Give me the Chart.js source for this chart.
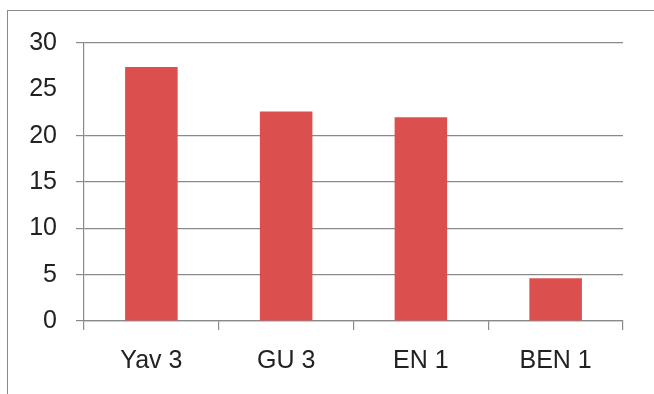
<!DOCTYPE html>
<html><head><meta charset="utf-8">
<script src="https://cdn.jsdelivr.net/npm/chart.js@4"></script>
<style>
html,body{margin:0;padding:0;background:#fff;}
#wrap{position:relative;width:654px;height:394px;overflow:hidden;}
#frame{position:absolute;left:7px;top:10px;width:700px;height:400px;border-top:1.5px solid #8a8a8a;border-left:1.5px solid #8a8a8a;}
canvas{position:absolute;left:0;top:0;}
</style></head>
<body>
<div id="wrap"><div id="frame"></div><canvas id="c" width="654" height="394"></canvas></div>
<script>
const categories = ["Yav 3", "GU 3", "EN 1", "BEN 1"];
const values = [27.4, 22.6, 22.0, 4.6];
const yTicks = [0, 5, 10, 15, 20, 25, 30];
const hiddenGrid = [25];
const gridColors = yTicks.map(v => hiddenGrid.includes(v) ? 'rgba(0,0,0,0)' : '#8a8a8a');

const hideGridPlugin = {
  id: 'hideGrid',
  beforeDatasetsDraw(chart) {
    const ys = chart.scales.y, area = chart.chartArea, ctx = chart.ctx;
    ctx.save();
    ctx.fillStyle = '#ffffff';
    hiddenGrid.forEach(v => {
      const py = ys.getPixelForValue(v);
      ctx.fillRect(area.left - 10, py - 2, 9, 4);
      ctx.fillRect(area.left + 1, py - 2, area.right - area.left + 1, 4);
    });
    ctx.restore();
  }
};

new Chart(document.getElementById('c'), {
  type: 'bar',
  data: { labels: categories, datasets: [{ data: values, backgroundColor: '#dc4f4f', borderWidth: 0, categoryPercentage: 1, barPercentage: 0.39 }] },
  options: {
    responsive: false, animation: false,
    layout: { padding: { left: 0, right: 31, top: 43, bottom: 0 } },
    plugins: { legend: { display: false }, tooltip: { enabled: false } },
    scales: {
      x: {
        grid: { offset: true, drawOnChartArea: false, tickLength: 9, color: '#8a8a8a', lineWidth: 1.2 },
        border: { color: '#8a8a8a', width: 1.2 },
        ticks: { color: '#222', font: { family: 'Liberation Sans', size: 25 }, padding: 16 },
        afterFit: s => { s.height = 73; }
      },
      y: {
        min: 0, max: 30,
        afterBuildTicks: s => { s.ticks = yTicks.map(v => ({ value: v })); },
        grid: { tickLength: 8, color: gridColors, lineWidth: 1.2 },
        border: { color: '#8a8a8a', width: 1.2 },
        ticks: { color: '#222', font: { family: 'Liberation Sans', size: 25 }, padding: 19 },
        afterFit: s => { s.width = 84; }
      }
    }
  },
  plugins: [hideGridPlugin]
});
</script>
</body></html>
